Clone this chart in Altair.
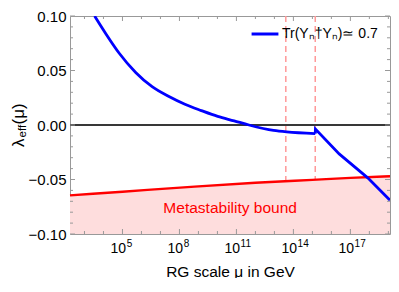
import altair as alt
import pandas as pd

# ---- data (x as log10 of mu in GeV) ----
blue_logmu_a = [3.534, 4.141, 4.830, 5.696, 6.561, 7.422, 8.288, 9.154, 10.014, 10.880, 11.66, 12.954, 13.643, 15.15]
blue_lam_a = [0.100, 0.0833, 0.0658, 0.0482, 0.0351, 0.0263, 0.0190, 0.0132, 0.0079, 0.0038, 0.0, -0.0050, -0.0064, -0.0079]
blue_logmu_b = [15.15, 15.16, 16.41, 17.914, 19.086]
blue_lam_b = [-0.0079, -0.0037, -0.0265, -0.0485, -0.0690]
bound_logmu = [2.238, 5.0, 8.8, 12.0, 15.0, 17.0, 19.086]
bound_lam = [-0.0646, -0.0612, -0.0565, -0.0530, -0.0503, -0.0485, -0.0470]
threshold_logmu = [13.60, 15.15]
legend_label = "Tr(Yₙ†Yₙ)≃ 0.7"
note_text = ["Metastability bound"]
note_logmu = [10.67]
note_lam = [-0.076]
x_major = [1e5, 1e8, 1e11, 1e14, 1e17]
x_exponents = ["5", "8", "11", "14", "17"]
x_minor = [1e3, 1e4, 1e6, 1e7, 1e9, 1e10, 1e12, 1e13, 1e15, 1e16, 1e18, 1e19]
y_major = [-0.10, -0.05, 0.0, 0.05, 0.10]
y_minor = [-0.09, -0.08, -0.07, -0.06, -0.04, -0.03, -0.02, -0.01,
           0.01, 0.02, 0.03, 0.04, 0.06, 0.07, 0.08, 0.09]
mu_range = [10 ** 2.238, 10 ** 19.086]
lam_range = [-0.10, 0.10]

W, H = 320, 218
FONT = "Liberation Sans"
GRAY = "#999999"

blue_a = pd.DataFrame({"mu": [10 ** v for v in blue_logmu_a], "lam": blue_lam_a, "series": legend_label})
blue_b = pd.DataFrame({"mu": [10 ** v for v in blue_logmu_b], "lam": blue_lam_b})
bound = pd.DataFrame({"mu": [10 ** v for v in bound_logmu], "lam": bound_lam})
thr = pd.DataFrame({"mu": [10 ** v for v in threshold_logmu]})
note = pd.DataFrame({"mu": [10 ** v for v in note_logmu], "lam": note_lam, "t": note_text})
xmaj = pd.DataFrame({"mu": x_major, "e": x_exponents, "b": "10"})
xmin = pd.DataFrame({"mu": x_minor})
ymaj = pd.DataFrame({"lam": y_major})
ymin = pd.DataFrame({"lam": y_minor})

xscale = alt.Scale(type="log", domain=mu_range, nice=False)
yscale = alt.Scale(domain=lam_range, nice=False, zero=False)
xaxis = alt.Axis(labels=False, ticks=False, domain=False, grid=False,
                 title="RG scale μ in GeV", titleFont=FONT, titleFontSize=15.5,
                 titleFontWeight="normal", titleColor="black", titlePadding=30)
yaxis = alt.Axis(values=y_major, format=".2f", ticks=False, domain=False, grid=False,
                 labelFont=FONT, labelFontSize=15, labelColor="black", labelPadding=4,
                 labelFlush=False, labelOverlap=False, title=None)

X = alt.X("mu:Q", scale=xscale, axis=xaxis)
Y = alt.Y("lam:Q", scale=yscale, axis=yaxis)

dashed = alt.Chart(thr).mark_rule(color="#FF9999", strokeDash=[6, 4], strokeWidth=1.5).encode(x=X)
fill = alt.Chart(bound).mark_area(color="#FEDDDD", interpolate="monotone", opacity=1).encode(
    x=X, y=Y, y2=alt.datum(-0.10))
red = alt.Chart(bound).mark_line(color="#FF0000", strokeWidth=2.4, interpolate="monotone").encode(x=X, y=Y)
zero = alt.Chart(ymaj).mark_rule(color="#333333", strokeWidth=1).encode(y=alt.datum(0))
blueA = alt.Chart(blue_a).mark_line(strokeWidth=2.8, interpolate="monotone", clip=True).encode(
    x=X, y=Y,
    color=alt.Color("series:N", scale=alt.Scale(domain=[legend_label], range=["#0000FF"]),
                    legend=alt.Legend(orient="none", legendX=180, legendY=3, title=None,
                                      symbolType="stroke", symbolStrokeWidth=3, symbolSize=720,
                                      labelFont=FONT, labelFontSize=14, labelColor="black",
                                      labelOffset=2, padding=0)))
blueB = alt.Chart(blue_b).mark_line(color="#0000FF", strokeWidth=2.8, clip=True).encode(x=X, y=Y)
txt = alt.Chart(note).mark_text(color="#FF0000", font=FONT, fontSize=15.5).encode(x=X, y=Y, text="t:N")

# inward frame ticks
tl_maj = alt.Chart(ymaj).mark_rule(color=GRAY).encode(y=Y, x=alt.value(0), x2=alt.value(5))
tr_maj = alt.Chart(ymaj).mark_rule(color=GRAY).encode(y=Y, x=alt.value(W), x2=alt.value(W - 5))
tl_min = alt.Chart(ymin).mark_rule(color=GRAY).encode(y=Y, x=alt.value(0), x2=alt.value(3))
tr_min = alt.Chart(ymin).mark_rule(color=GRAY).encode(y=Y, x=alt.value(W), x2=alt.value(W - 3))
tb_maj = alt.Chart(xmaj).mark_rule(color=GRAY).encode(x=X, y=alt.value(H), y2=alt.value(H - 5))
tt_maj = alt.Chart(xmaj).mark_rule(color=GRAY).encode(x=X, y=alt.value(0), y2=alt.value(5))
tb_min = alt.Chart(xmin).mark_rule(color=GRAY).encode(x=X, y=alt.value(H), y2=alt.value(H - 3))
tt_min = alt.Chart(xmin).mark_rule(color=GRAY).encode(x=X, y=alt.value(0), y2=alt.value(3))

# x tick labels 10^n
lab10 = alt.Chart(xmaj).mark_text(align="right", baseline="middle", dx=3.7, font=FONT, fontSize=14,
                                  color="black").encode(x=X, y=alt.value(H + 14.7), text="b:N")
labexp = alt.Chart(xmaj).mark_text(align="left", baseline="middle", dx=4.2, font=FONT, fontSize=10,
                                   color="black").encode(x=X, y=alt.value(H + 9.7), text="e:N")

# y title lambda_eff(mu)
one = pd.DataFrame({"a": ["λ"], "b": ["eff"], "c": ["(μ)"]})
yt1 = alt.Chart(one).mark_text(angle=270, align="left", baseline="middle", font=FONT, fontSize=17,
                               color="black").encode(x=alt.value(-51), y=alt.value(131), text="a:N")
yt2 = alt.Chart(one).mark_text(angle=270, align="left", baseline="middle", font=FONT, fontSize=11.5,
                               color="black").encode(x=alt.value(-47.5), y=alt.value(121.5), text="b:N")
yt3 = alt.Chart(one).mark_text(angle=270, align="left", baseline="middle", font=FONT, fontSize=17,
                               color="black").encode(x=alt.value(-51), y=alt.value(108.5), text="c:N")

chart = alt.layer(
    dashed, fill, red, zero, blueA, blueB, txt,
    tl_maj, tr_maj, tl_min, tr_min, tb_maj, tt_maj, tb_min, tt_min,
    lab10, labexp, yt1, yt2, yt3,
).properties(
    width=W, height=H,
    autosize=alt.AutoSizeParams(type="none"),
    padding={"left": 62, "top": 8, "right": 1, "bottom": 44},
).configure_view(stroke=GRAY, strokeWidth=1)

chart.save("out.html", embed_options={"renderer": "svg", "actions": False})
